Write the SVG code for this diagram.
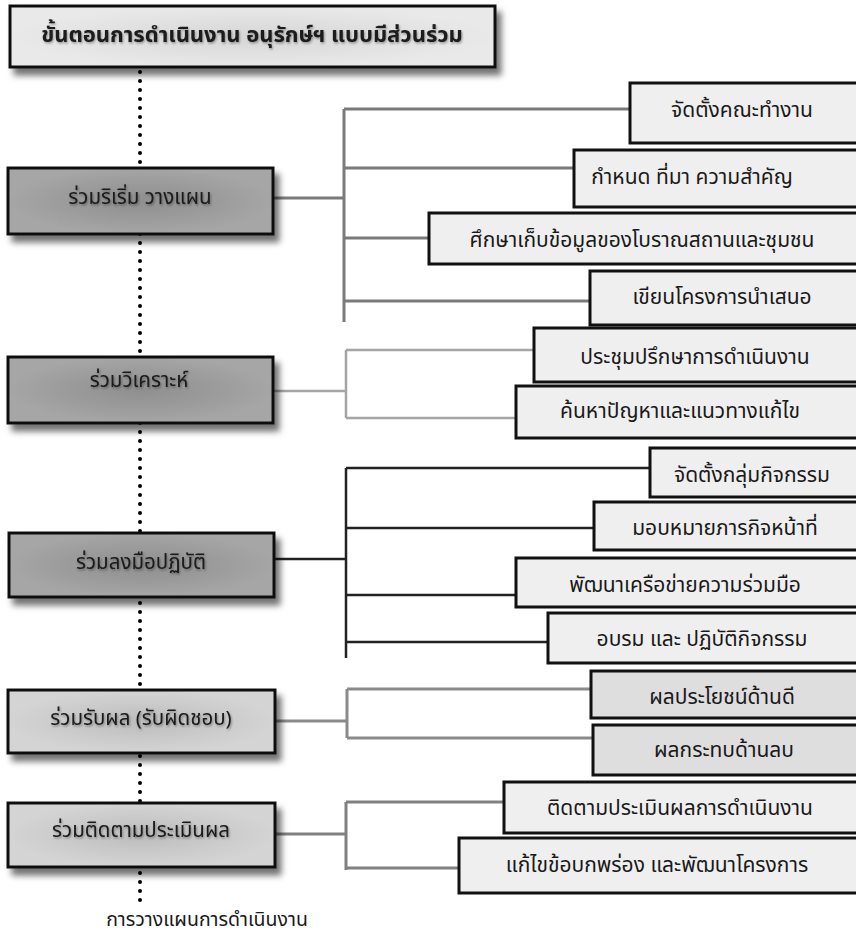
<svg xmlns="http://www.w3.org/2000/svg" width="856" height="939" viewBox="0 0 856 939">
<style>
  text { font-family: "Noto Sans Thai", "Loma", "Garuda", "Tahoma", "DejaVu Sans", sans-serif; fill: #1a1a1a; text-anchor: middle; dominant-baseline: central; }
  .t { font-size: 22px; font-weight: bold; }
  .l { font-size: 20.5px; }
  .r { font-size: 21px; }
  .b { font-size: 19.5px; }
  .box { stroke: #111; stroke-width: 3; }
  .dark { fill: url(#gDark); }
  .lite { fill: url(#gLite); }
  .title { fill: url(#gTitle); }
  .rb { fill: #efefef; }
  .rb2 { fill: #dedede; }
  .c1 { stroke: #7a7a7a; stroke-width: 3; fill: none; }
  .c2 { stroke: #a4a4a4; stroke-width: 2.5; fill: none; }
  .c3 { stroke: #222; stroke-width: 2.5; fill: none; }
  .c4 { stroke: #8a8a8a; stroke-width: 3; fill: none; }
  .c5 { stroke: #808080; stroke-width: 3; fill: none; }
  .dots { stroke: #000; stroke-width: 4; stroke-linecap: round; stroke-dasharray: 0 9; fill: none; }
</style>
<defs>
  <filter id="sh" x="-10%" y="-20%" width="130%" height="160%">
    <feDropShadow dx="5" dy="7" stdDeviation="3" flood-color="#000" flood-opacity="0.55"/>
  </filter>
  <filter id="tsh" x="-10%" y="-30%" width="120%" height="160%">
    <feDropShadow dx="1" dy="1.5" stdDeviation="1.2" flood-color="#000" flood-opacity="0.35"/>
  </filter>
  <radialGradient id="gDark" cx="50%" cy="50%" r="50%">
    <stop offset="0" stop-color="#8f8f8f"/>
    <stop offset="0.6" stop-color="#9c9c9c"/>
    <stop offset="1" stop-color="#a6a6a6"/>
  </radialGradient>
  <radialGradient id="gLite" cx="50%" cy="50%" r="50%">
    <stop offset="0" stop-color="#bcbcbc"/>
    <stop offset="0.6" stop-color="#cbcbcb"/>
    <stop offset="1" stop-color="#d4d4d4"/>
  </radialGradient>
  <radialGradient id="gTitle" cx="50%" cy="50%" r="50%">
    <stop offset="0" stop-color="#d6d6d6"/>
    <stop offset="1" stop-color="#e9e9e9"/>
  </radialGradient>
</defs>

<g id="connectors">
  <line class="dots" x1="140" y1="72" x2="140" y2="908"/>
  <path class="c1" d="M273,198 H344 M344,109 V322 M344,109 H629 M344,168 H573 M344,238 H428 M344,301 H589"/>
  <path class="c2" d="M273,391 H346 M346,350 V418 M346,350 H533 M346,418 H515"/>
  <path class="c3" d="M274,559 H346 M346,468 V658 M346,468 H649 M346,528 H593 M346,595 H515 M346,642 H547"/>
  <path class="c4" d="M275,721 H347 M347,689 V738 M347,689 H590 M347,738 H592"/>
  <path class="c5" d="M275,834 H346 M346,802 V870 M346,802 H503 M346,868 H458"/>
</g>

<g id="title">
  <rect class="box title" x="10" y="6" width="485" height="61" filter="url(#sh)"/>
  <text class="t" x="252" y="35" filter="url(#tsh)">ขั้นตอนการดำเนินงาน อนุรักษ์ฯ แบบมีส่วนร่วม</text>
</g>

<g id="n-plan">
  <rect class="box dark" x="8" y="168" width="265" height="66" filter="url(#sh)"/>
  <text class="l" x="140" y="197" filter="url(#tsh)">ร่วมริเริ่ม วางแผน</text>
</g>
<g id="n-analyze">
  <rect class="box dark" x="8" y="357" width="265" height="66" filter="url(#sh)"/>
  <text class="l" x="139" y="380" filter="url(#tsh)">ร่วมวิเคราะห์</text>
</g>
<g id="n-act">
  <rect class="box dark" x="9" y="533" width="265" height="64" filter="url(#sh)"/>
  <text class="l" x="141" y="562" filter="url(#tsh)">ร่วมลงมือปฏิบัติ</text>
</g>
<g id="n-receive">
  <rect class="box lite" x="8" y="690" width="267" height="63" filter="url(#sh)"/>
  <text class="l" x="141" y="718" filter="url(#tsh)">ร่วมรับผล (รับผิดชอบ)</text>
</g>
<g id="n-evaluate">
  <rect class="box lite" x="8" y="803" width="267" height="64" filter="url(#sh)"/>
  <text class="l" x="141" y="830" filter="url(#tsh)">ร่วมติดตามประเมินผล</text>
</g>

<g id="r1a"><rect class="box rb" x="630" y="83" width="240" height="60"/><text class="r" x="742" y="110">จัดตั้งคณะทำงาน</text></g>
<g id="r1b"><rect class="box rb" x="574" y="150" width="296" height="57"/><text class="r" x="692" y="177">กำหนด ที่มา ความสำคัญ</text></g>
<g id="r1c"><rect class="box rb" x="429" y="213" width="441" height="51"/><text class="r" x="642" y="240">ศึกษาเก็บข้อมูลของโบราณสถานและชุมชน</text></g>
<g id="r1d"><rect class="box rb" x="590" y="271" width="280" height="54"/><text class="r" x="722" y="297">เขียนโครงการนำเสนอ</text></g>

<g id="r2a"><rect class="box rb" x="534" y="328" width="336" height="54"/><text class="r" x="695" y="357">ประชุมปรึกษาการดำเนินงาน</text></g>
<g id="r2b"><rect class="box rb" x="516" y="386" width="354" height="52"/><text class="r" x="680" y="411">ค้นหาปัญหาและแนวทางแก้ไข</text></g>

<g id="r3a"><rect class="box rb" x="650" y="448" width="220" height="49"/><text class="r" x="752" y="475">จัดตั้งกลุ่มกิจกรรม</text></g>
<g id="r3b"><rect class="box rb" x="594" y="502" width="276" height="48"/><text class="r" x="725" y="528">มอบหมายภารกิจหน้าที่</text></g>
<g id="r3c"><rect class="box rb" x="516" y="558" width="354" height="49"/><text class="r" x="685" y="585">พัฒนาเครือข่ายความร่วมมือ</text></g>
<g id="r3d"><rect class="box rb" x="548" y="613" width="322" height="50"/><text class="r" x="702" y="639">อบรม และ ปฏิบัติกิจกรรม</text></g>

<g id="r4a"><rect class="box rb2" x="591" y="671" width="279" height="47"/><text class="r" x="722" y="697">ผลประโยชน์ด้านดี</text></g>
<g id="r4b"><rect class="box rb2" x="593" y="725" width="277" height="50"/><text class="r" x="724" y="750">ผลกระทบด้านลบ</text></g>

<g id="r5a"><rect class="box rb" x="504" y="782" width="366" height="51"/><text class="r" x="680" y="808">ติดตามประเมินผลการดำเนินงาน</text></g>
<g id="r5b"><rect class="box rb" x="459" y="838" width="411" height="55"/><text class="r" x="657" y="865">แก้ไขข้อบกพร่อง และพัฒนาโครงการ</text></g>

<g id="footer"><text class="b" x="207" y="920">การวางแผนการดำเนินงาน</text></g>
</svg>
